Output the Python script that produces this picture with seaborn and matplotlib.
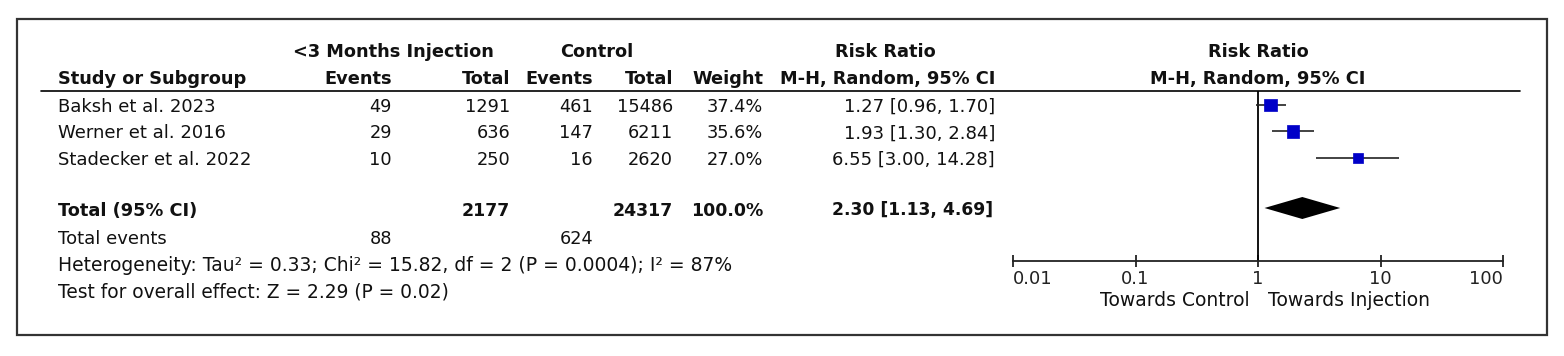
import numpy as np
import pandas as pd
import matplotlib
matplotlib.use("Agg")
import matplotlib.pyplot as plt
import seaborn as sns

# --- DADOS ---
estudos = ["Baksh et al. 2023", "Werner et al. 2016", "Stadecker et al. 2022"]
eventos_inj = [49, 29, 10]
total_inj = [1291, 636, 250]
eventos_ctrl = [461, 147, 16]
total_ctrl = [15486, 6211, 2620]
pesos = [37.4, 35.6, 27.0]
rr = [1.27, 1.93, 6.55]
ic_inf = [0.96, 1.30, 3.00]
ic_sup = [1.70, 2.84, 14.28]

total_geral = ["Total (95% CI)", 2177, 24317, "100.0%"]
rr_total, ic_total_inf, ic_total_sup = 2.30, 1.13, 4.69
total_eventos = [88, 624]
heterogeneidade = "Heterogeneity: Tau² = 0.33; Chi² = 15.82, df = 2 (P = 0.0004); I² = 87%"
efeito_global = "Test for overall effect: Z = 2.29 (P = 0.02)"
ticks_eixo = [0.01, 0.1, 1, 10, 100]
tick_labels = ["0.01", "0.1", "1", "10", "100"]

# --- LAYOUT (pixels, linhas de base do texto) ---
W, H = 1564, 356
FS_TXT, FS_NUM, FS_BOLD = 13.0, 12.8, 12.8
y_linha1, y_linha2, y_regua = 57, 84, 90.7
y0, dy = 112, 26.5          # linha de base da 1a linha de estudo
y_total, y_tev, y_het, y_test = 215.5, 244, 271, 297
x_eixo0, x_eixo1, y_eixo = 1013, 1503, 261

sns.set_style("white")
plt.rcParams['font.family'] = ['DejaVu Sans']

fig = plt.figure(figsize=(W / 100, H / 100), dpi=100)
ax = fig.add_axes([0, 0, 1, 1])
ax.set_xlim(0, W)
ax.set_ylim(H, 0)
ax.axis("off")

# moldura e linha de cabeçalho
ax.add_patch(plt.Rectangle((17, 19), 1530, 316, fill=False, ec="#333333", lw=1.6))
ax.plot([41, 1520], [y_regua, y_regua], color="black", lw=1.2)

def txt(x, y, s, ha="left", bold=False, fs=None):
    if fs is None:
        fs = FS_BOLD if bold else FS_TXT
    ax.text(x, y, s, ha=ha, va="baseline", fontsize=fs,
            fontweight="bold" if bold else "normal", color="#111111")

# cabeçalho
txt(393, y_linha1, "<3 Months Injection", ha="center", bold=True)
txt(597, y_linha1, "Control", ha="center", bold=True)
txt(885, y_linha1, "Risk Ratio", ha="center", bold=True)
txt(1258, y_linha1, "Risk Ratio", ha="center", bold=True)
txt(58, y_linha2, "Study or Subgroup", bold=True)
txt(392, y_linha2, "Events", ha="right", bold=True)
txt(510, y_linha2, "Total", ha="right", bold=True)
txt(593, y_linha2, "Events", ha="right", bold=True)
txt(673, y_linha2, "Total", ha="right", bold=True)
txt(763, y_linha2, "Weight", ha="right", bold=True)
txt(995, y_linha2, "M-H, Random, 95% CI", ha="right", bold=True)
txt(1258, y_linha2, "M-H, Random, 95% CI", ha="center", bold=True)

# linhas dos estudos
for i, nome in enumerate(estudos):
    y = y0 + i * dy
    txt(58, y, nome)
    txt(392, y, str(eventos_inj[i]), ha="right", fs=FS_NUM)
    txt(510, y, str(total_inj[i]), ha="right", fs=FS_NUM)
    txt(593, y, str(eventos_ctrl[i]), ha="right", fs=FS_NUM)
    txt(673, y, str(total_ctrl[i]), ha="right", fs=FS_NUM)
    txt(763, y, f"{pesos[i]:.1f}%", ha="right", fs=FS_NUM)
    txt(995, y, f"{rr[i]:.2f} [{ic_inf[i]:.2f}, {ic_sup[i]:.2f}]", ha="right")

# total
txt(58, y_total, total_geral[0], bold=True)
txt(510, y_total, str(total_geral[1]), ha="right", bold=True, fs=12.5)
txt(673, y_total, str(total_geral[2]), ha="right", bold=True, fs=12.5)
txt(763, y_total, total_geral[3], ha="right", bold=True, fs=12.5)
txt(993, y_total, f"{rr_total:.2f} [{ic_total_inf:.2f}, {ic_total_sup:.2f}]",
    ha="right", bold=True, fs=12.3)
txt(58, y_tev, "Total events")
txt(392, y_tev, str(total_eventos[0]), ha="right", fs=FS_NUM)
txt(593, y_tev, str(total_eventos[1]), ha="right", fs=FS_NUM)
txt(58, y_het, heterogeneidade, fs=13.5)
txt(58, y_test, efeito_global, fs=13.4)

# --- FOREST PLOT ---
# eixo y em índice de linha: linha i no pixel yc0 + i*dy (centro dos quadrados)
yc0 = 105
y_topo = (y_regua - yc0) / dy
y_base = (y_eixo - yc0) / dy
ax_f = fig.add_axes([x_eixo0 / W, 1 - y_eixo / H, (x_eixo1 - x_eixo0) / W, (y_eixo - y_regua) / H])
ax_f.patch.set_alpha(0)
ax_f.set_xscale("log")
ax_f.set_xlim(ticks_eixo[0], ticks_eixo[-1])
ax_f.set_ylim(y_base, y_topo)

df = pd.DataFrame({"rr": rr, "linha": np.arange(len(rr)), "peso": pesos})
ax_f.hlines(df["linha"], ic_inf, ic_sup, color="#222222", lw=1.2, zorder=2)
sns.scatterplot(data=df, x="rr", y="linha", size="peso", sizes=(56, 82), marker="s",
                color="#0000C8", edgecolor="#0000C8", linewidth=0.5, legend=False,
                ax=ax_f, zorder=3)

y_d = (208 - yc0) / dy
meia_altura = 11 / dy
ax_f.fill([ic_total_inf, rr_total, ic_total_sup, rr_total],
          [y_d, y_d - meia_altura, y_d, y_d + meia_altura], color="black", lw=0, zorder=3)
ax_f.axvline(1, color="black", lw=1.3, zorder=1)

for lado in ["top", "right", "left"]:
    ax_f.spines[lado].set_visible(False)
ax_f.spines["bottom"].set_color("#222222")
ax_f.spines["bottom"].set_linewidth(1.3)
ax_f.set_yticks([])
ax_f.set_xticks(ticks_eixo)
ax_f.set_xticklabels(tick_labels)
ax_f.xaxis.set_minor_locator(matplotlib.ticker.NullLocator())
ax_f.tick_params(axis="x", bottom=True, direction="inout", length=8, width=1.3,
                 labelsize=13, pad=2.5, colors="#222222")
rotulos = ax_f.get_xticklabels()
rotulos[0].set_ha("left")
rotulos[-1].set_ha("right")
ax_f.set_xlabel("")
ax_f.set_ylabel("")

txt(1250, 305.5, "Towards Control", ha="right", fs=13.5)
txt(1268, 305.5, "Towards Injection", ha="left", fs=13.5)

fig.savefig("out.png", dpi=100)
